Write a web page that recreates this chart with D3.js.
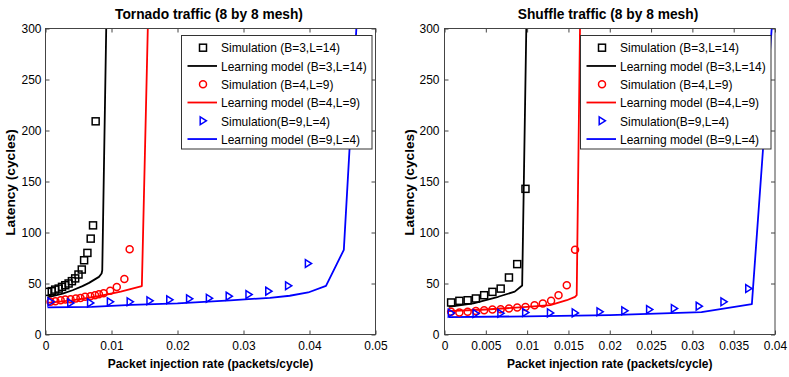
<!DOCTYPE html>
<html><head><meta charset="utf-8">
<script src="https://cdn.jsdelivr.net/npm/d3@7"></script>
<style>
body{margin:0;background:#fff;}
svg{display:block;font-family:"Liberation Sans",Arial,Helvetica,sans-serif;}
</style></head>
<body><svg id="chart" width="789" height="377"></svg>
<script>
// ---------- Tick values / labels ----------
const yTicks = [0, 50, 100, 150, 200, 250, 300];
const yTickLabels = ["0", "50", "100", "150", "200", "250", "300"];
const tornadoXTicks = [0, 0.01, 0.02, 0.03, 0.04, 0.05];
const tornadoXTickLabels = ["0", "0.01", "0.02", "0.03", "0.04", "0.05"];
const shuffleXTicks = [0, 0.005, 0.01, 0.015, 0.02, 0.025, 0.03, 0.035, 0.04];
const shuffleXTickLabels = ["0", "0.005", "0.01", "0.015", "0.02", "0.025", "0.03", "0.035", "0.04"];

// ---------- Legend labels ----------
const seriesNames = ["Simulation (B=3,L=14)", "Learning model (B=3,L=14)", "Simulation (B=4,L=9)",
  "Learning model (B=4,L=9)", "Simulation(B=9,L=4)", "Learning model (B=9,L=4)"];

// ---------- Tornado traffic ----------
const tSimB3X = [0.0003, 0.00095, 0.00147, 0.002, 0.0025, 0.003, 0.0035, 0.004, 0.0045, 0.005, 0.0055, 0.00585, 0.00635, 0.00685, 0.0072, 0.0076];
const tSimB3Y = [41.8, 42.5, 44, 45, 46.7, 48.3, 50, 52.3, 55, 58.8, 63.7, 72.8, 80, 94, 107, 209];
const tModB3X = [0.0003, 0.0026, 0.0041, 0.0056, 0.0066, 0.0081, 0.0085, 0.0086, 0.0092];
const tModB3Y = [36.5, 40, 43.4, 47.4, 50.6, 56.5, 59.8, 63, 300];
const tSimB4X = [0.00076, 0.0015, 0.0023, 0.003, 0.0038, 0.0046, 0.0053, 0.006, 0.0068, 0.0075, 0.0081, 0.0088, 0.0098, 0.0108, 0.01195, 0.01275];
const tSimB4Y = [32, 32.6, 33.6, 34.3, 34.6, 35.3, 35.9, 36.9, 37.5, 38.5, 39.5, 40.5, 42.8, 46.5, 54.5, 83.5];
const tModB4X = [0.0003, 0.004, 0.008, 0.0114, 0.0146, 0.0155];
const tModB4Y = [31, 33.5, 37.5, 42, 47.5, 300];
const tSimB9X = [0.0008, 0.0038, 0.0068, 0.0098, 0.0128, 0.0158, 0.0188, 0.0218, 0.0248, 0.0278, 0.0308, 0.0338, 0.0368, 0.0398];
const tSimB9Y = [32, 31, 31, 32, 32, 33, 34, 35, 35.6, 37.6, 39.2, 42.5, 47.7, 69.6];
const tModB9X = [0.0003, 0.007, 0.013, 0.02, 0.028, 0.034, 0.037, 0.0398, 0.0425, 0.0452, 0.0471];
const tModB9Y = [26.5, 27, 29, 30.5, 33.5, 36, 38, 41.2, 47.7, 83, 300];

// ---------- Shuffle traffic ----------
const sSimB3X = [0.0008, 0.0018, 0.0028, 0.0038, 0.0048, 0.0058, 0.0068, 0.0078, 0.0088, 0.0098];
const sSimB3Y = [31.4, 33, 33.6, 35.3, 38.5, 41.8, 45, 55.9, 69, 142.8];
const sModB3X = [0.0005, 0.0035, 0.0065, 0.0085, 0.0094, 0.0099];
const sModB3Y = [27, 30.5, 37, 42, 48, 300];
const sSimB4X = [0.0008, 0.0018, 0.0028, 0.0038, 0.0048, 0.0058, 0.0068, 0.0078, 0.0088, 0.0098, 0.0109, 0.0119, 0.0129, 0.0138, 0.0148, 0.0158];
const sSimB4Y = [22.2, 21.6, 22.2, 23.1, 23.8, 24.5, 24.8, 25.5, 26.5, 27, 28.7, 30.4, 33, 38.5, 48.3, 83];
const sModB4X = [0.0005, 0.005, 0.01, 0.0128, 0.0148, 0.0158, 0.016, 0.0164];
const sModB4Y = [23, 24.5, 27, 28.7, 33.6, 36.9, 38.5, 300];
const sSimB9X = [0.0008, 0.0038, 0.0068, 0.0098, 0.0128, 0.0158, 0.0188, 0.0218, 0.0248, 0.0278, 0.0308, 0.0338, 0.0368];
const sSimB9Y = [21, 20.5, 20.8, 21.5, 21.2, 21.2, 22.2, 23.2, 24.5, 25.5, 27.8, 32, 45];
const sModB9X = [0.0005, 0.01, 0.02, 0.0311, 0.0372, 0.0396];
const sModB9Y = [17, 17.8, 19, 22, 29.7, 300];

const colors = ["#000000", "#ff0000", "#0000ff"];
const markers = ["square", "circle", "triangle"];

const zip = (xs, ys) => xs.map((x, i) => [x, ys[i]]);

const panels = [
  { title: "Tornado traffic (8 by 8 mesh)", x0: 45.5, x1: 375.5, xDomain: [0, 0.05],
    xTicks: tornadoXTicks, xLabels: tornadoXTickLabels, yLabelPad: 4, titleX: 209, ylabX: 15,
    legend: { x: 181, w: 190.5 },
    sims: [zip(tSimB3X, tSimB3Y), zip(tSimB4X, tSimB4Y), zip(tSimB9X, tSimB9Y)],
    mods: [zip(tModB3X, tModB3Y), zip(tModB4X, tModB4Y), zip(tModB9X, tModB9Y)] },
  { title: "Shuffle traffic (8 by 8 mesh)", x0: 444.5, x1: 775, xDomain: [0, 0.04],
    xTicks: shuffleXTicks, xLabels: shuffleXTickLabels, yLabelPad: 5, titleX: 608, ylabX: 413.5,
    legend: { x: 580, w: 190.5 },
    sims: [zip(sSimB3X, sSimB3Y), zip(sSimB4X, sSimB4Y), zip(sSimB9X, sSimB9Y)],
    mods: [zip(sModB3X, sModB3Y), zip(sModB4X, sModB4Y), zip(sModB9X, sModB9Y)] }
];

const svg = d3.select("#chart");
const yTop = 28.5, yBot = 334.5;
const axisColor = "#444";
const squeeze = 0.9;          // horizontal compression of the original figure text
const baseFont = 13.3;

// compress horizontal text so it keeps the original width but taller glyphs
function compress(sel) {
  sel.each(function () {
    const w = this.getComputedTextLength();
    if (w > 0) {
      d3.select(this).attr("textLength", w * squeeze).attr("lengthAdjust", "spacingAndGlyphs");
    }
  });
}

function drawMarker(g, type, color) {
  if (type === "square") {
    g.append("rect").attr("x", -3.5).attr("y", -3.5).attr("width", 7).attr("height", 7)
      .attr("fill", "none").attr("stroke", color).attr("stroke-width", 1.5);
  } else if (type === "circle") {
    g.append("circle").attr("r", 3.5).attr("fill", "none").attr("stroke", color).attr("stroke-width", 1.5);
  } else {
    g.append("path").attr("d", "M-2.8,-3.9L3.4,0L-2.8,3.9Z").attr("fill", "none")
      .attr("stroke", color).attr("stroke-width", 1.5).attr("stroke-linejoin", "miter");
  }
}

panels.forEach((p, pi) => {
  const x = d3.scaleLinear().domain(p.xDomain).range([p.x0, p.x1]);
  const y = d3.scaleLinear().domain([0, 300]).range([yBot, yTop]);
  const g = svg.append("g");

  g.append("rect").attr("x", p.x0).attr("y", yTop).attr("width", p.x1 - p.x0).attr("height", yBot - yTop)
    .attr("fill", "#fff");

  // axes
  const fmtX = d => p.xLabels[p.xTicks.indexOf(d)];
  const fmtY = d => yTickLabels[yTicks.indexOf(d)];
  const styleAxis = sel => {
    sel.select(".domain").remove();
    sel.selectAll(".tick line").attr("stroke", axisColor);
    sel.selectAll("text").attr("fill", "#000").style("font-size", baseFont + "px")
      .style("font-family", '"Liberation Sans",Arial,sans-serif');
    sel.selectAll("text").call(compress);
  };
  g.append("g").attr("transform", `translate(0,${yBot})`)
    .call(d3.axisBottom(x).tickValues(p.xTicks).tickFormat(fmtX).tickSizeInner(-4).tickSizeOuter(0).tickPadding(6.5))
    .call(styleAxis);
  g.append("g").attr("transform", `translate(0,${yTop})`)
    .call(d3.axisTop(x).tickValues(p.xTicks).tickFormat("").tickSizeInner(-4).tickSizeOuter(0))
    .call(styleAxis);
  g.append("g").attr("transform", `translate(${p.x0},0)`)
    .call(d3.axisLeft(y).tickValues(yTicks).tickFormat(fmtY).tickSizeInner(-4).tickSizeOuter(0).tickPadding(p.yLabelPad))
    .call(styleAxis);
  g.append("g").attr("transform", `translate(${p.x1},0)`)
    .call(d3.axisRight(y).tickValues(yTicks).tickFormat("").tickSizeInner(-4).tickSizeOuter(0))
    .call(styleAxis);

  // clip
  const cid = "clip" + pi;
  svg.append("clipPath").attr("id", cid).append("rect")
    .attr("x", p.x0).attr("y", yTop).attr("width", p.x1 - p.x0).attr("height", yBot - yTop);
  const plot = g.append("g").attr("clip-path", `url(#${cid})`);

  const line = d3.line().x(d => x(d[0])).y(d => y(d[1]));
  p.mods.forEach((m, i) => {
    plot.append("path").datum(m).attr("d", line).attr("fill", "none")
      .attr("stroke", colors[i]).attr("stroke-width", 1.8).attr("stroke-linejoin", "round");
  });
  p.sims.forEach((s, i) => {
    s.forEach(d => {
      const mg = plot.append("g").attr("transform", `translate(${x(d[0])},${y(d[1])})`);
      drawMarker(mg, markers[i], colors[i]);
    });
  });

  // box
  g.append("rect").attr("x", p.x0).attr("y", yTop).attr("width", p.x1 - p.x0).attr("height", yBot - yTop)
    .attr("fill", "none").attr("stroke", axisColor).attr("stroke-width", 1);

  // legend
  const L = p.legend;
  const lg = g.append("g");
  lg.append("rect").attr("x", L.x + 0.5).attr("y", 35.5).attr("width", L.w).attr("height", 113.5)
    .attr("fill", "#fff").attr("stroke", "#333").attr("stroke-width", 1);
  seriesNames.forEach((name, i) => {
    const cy = 47.7 + i * 18.27;
    const ci = Math.floor(i / 2);
    if (i % 2 === 0) {
      const mg = lg.append("g").attr("transform", `translate(${L.x + 22},${cy})`);
      drawMarker(mg, markers[ci], colors[ci]);
    } else {
      lg.append("line").attr("x1", L.x + 6.5).attr("x2", L.x + 36).attr("y1", cy).attr("y2", cy)
        .attr("stroke", colors[ci]).attr("stroke-width", 1.8);
    }
    lg.append("text").attr("x", L.x + 40).attr("y", cy).attr("dy", "0.36em")
      .style("font-size", baseFont + "px").attr("fill", "#000").text(name).call(compress);
  });

  // titles
  g.append("text").attr("x", p.titleX).attr("y", 18.5).attr("text-anchor", "middle")
    .style("font-size", "15.3px").style("font-weight", "bold").text(p.title).call(compress);
  g.append("text").attr("x", (p.x0 + p.x1) / 2).attr("y", 367.5).attr("text-anchor", "middle")
    .style("font-size", baseFont + "px").style("font-weight", "bold")
    .text("Packet injection rate (packets/cycle)").call(compress);
  g.append("text").attr("transform", `translate(${p.ylabX},${182.5}) rotate(-90)`).attr("text-anchor", "middle")
    .style("font-size", "13.7px").style("font-weight", "bold").text("Latency (cycles)");
});
</script>
</body></html>
